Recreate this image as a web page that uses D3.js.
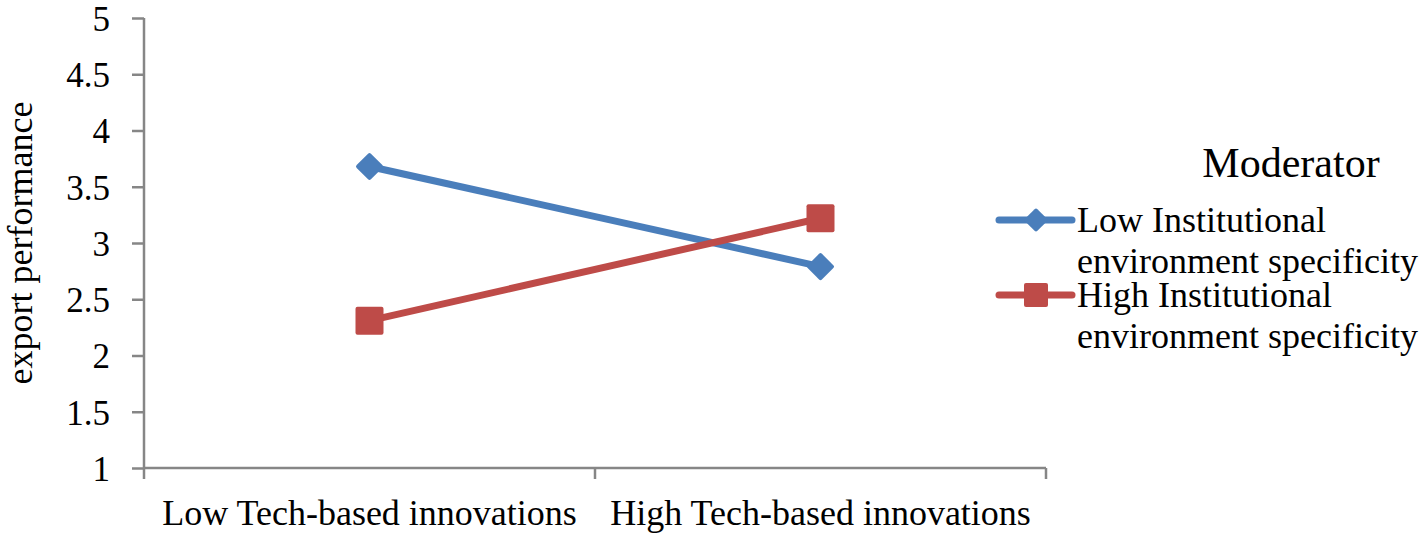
<!DOCTYPE html>
<html>
<head>
<meta charset="utf-8">
<title>Moderation plot</title>
<script src="https://cdn.jsdelivr.net/npm/d3@7"></script>
<style>
body { margin: 0; background: #fff; }
svg text { font-family: "Liberation Serif", "Times New Roman", serif; fill: #000; }
</style>
</head>
<body>
<script>
// data
var categories = ["Low Tech-based innovations", "High Tech-based innovations"];
var seriesNames = [["Low Institutional", "environment specificity"], ["High Institutional", "environment specificity"]];
var lowInst = [3.68, 2.79];
var highInst = [2.31, 3.22];
var yTicks = [1, 1.5, 2, 2.5, 3, 3.5, 4, 4.5, 5];
var colors = ["#4A7EBB", "#BE4B48"];

var W = 1421, H = 533;
var plot = {left: 144, right: 1046, top: 18, bottom: 468};

var svg = d3.select("body").append("svg")
    .attr("width", W).attr("height", H);

var x = d3.scaleBand().domain(categories).range([plot.left, plot.right]);
var y = d3.scaleLinear().domain([1, 5]).range([plot.bottom, plot.top]);

// y axis
var yAxis = svg.append("g")
    .attr("transform", "translate(" + plot.left + ",0)")
    .call(d3.axisLeft(y).tickValues(yTicks).tickSize(12).tickPadding(34).tickFormat(d3.format("")));
yAxis.selectAll("text")
    .style("font-size", "35px")
    .attr("x", -34).attr("dy", "0.35em");

// x axis
var xAxis = svg.append("g")
    .attr("transform", "translate(0," + plot.bottom + ")")
    .call(d3.axisBottom(x).tickSize(0));
xAxis.selectAll("text")
    .style("font-size", "36px")
    .attr("y", 57).attr("dy", 0);
xAxis.selectAll(".tick line").remove();
// tick marks at category boundaries
xAxis.selectAll(".bound")
    .data([plot.left, plot.left + x.bandwidth(), plot.right])
    .enter().append("line")
    .attr("class", "bound")
    .attr("x1", d => d).attr("x2", d => d)
    .attr("y1", 0).attr("y2", 11);

svg.selectAll(".domain, .tick line, .bound")
    .attr("stroke", "#868686").attr("stroke-width", 2.5);
svg.selectAll(".domain").attr("fill", "none");
yAxis.select(".domain").attr("d", "M0," + plot.top + "V" + plot.bottom);
xAxis.select(".domain").attr("d", "M" + plot.left + ",0H" + plot.right);

// axis title
svg.append("text")
    .attr("transform", "translate(32," + ((plot.top + plot.bottom) / 2) + ") rotate(-90)")
    .attr("text-anchor", "middle")
    .style("font-size", "36px")
    .text("export performance");

var cx = d => x(d) + x.bandwidth() / 2;
var series = [lowInst, highInst];

var line = d3.line()
    .x((d, i) => cx(categories[i]))
    .y(d => y(d));

series.forEach(function(s, k) {
    svg.append("path")
        .datum(s)
        .attr("d", line)
        .attr("fill", "none")
        .attr("stroke", colors[k])
        .attr("stroke-width", 7);
});

function marker(g, k, px, py, sz) {
    if (k === 0) {
        var h = sz * 0.36;
        g.append("rect")
            .attr("x", px - h).attr("y", py - h)
            .attr("width", 2 * h).attr("height", 2 * h)
            .attr("rx", 2)
            .attr("transform", "rotate(45," + px + "," + py + ")")
            .attr("fill", colors[0]);
    } else {
        var h = sz / 2;
        g.append("rect")
            .attr("x", px - h).attr("y", py - h)
            .attr("width", sz).attr("height", sz)
            .attr("rx", 2)
            .attr("fill", colors[1]);
    }
}

series.forEach(function(s, k) {
    s.forEach(function(v, i) {
        marker(svg, k, cx(categories[i]), y(v), 28);
    });
});

// legend
svg.append("text")
    .attr("x", 1291).attr("y", 177)
    .attr("text-anchor", "middle")
    .style("font-size", "42px")
    .text("Moderator");

var legendY = [220, 295];
seriesNames.forEach(function(names, k) {
    var ly = legendY[k];
    svg.append("line")
        .attr("x1", 999).attr("x2", 1072)
        .attr("y1", ly).attr("y2", ly)
        .attr("stroke", colors[k]).attr("stroke-width", 7)
        .attr("stroke-linecap", "round");
    marker(svg, k, 1036, ly, 24);
    var t = svg.append("text")
        .attr("x", 1077).attr("y", ly + 12)
        .style("font-size", "36px");
    t.append("tspan").attr("x", 1077).text(names[0]);
    t.append("tspan").attr("x", 1077).attr("dy", 41).text(names[1]);
});
</script>
</body>
</html>
